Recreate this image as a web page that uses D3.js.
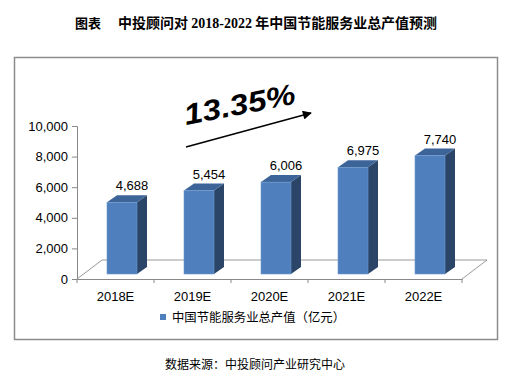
<!DOCTYPE html>
<html>
<head>
<meta charset="utf-8">
<script src="https://cdn.jsdelivr.net/npm/d3@7"></script>
<style>
  body { margin: 0; background: #fff; }
  svg text { font-family: "Liberation Sans", Arial, "Noto Sans CJK SC", sans-serif; }
</style>
</head>
<body>
<div id="chart"></div>
<script>
var years = ["2018E", "2019E", "2020E", "2021E", "2022E"]
var values = [4688, 5454, 6006, 6975, 7740]
var yTicks = [0, 2000, 4000, 6000, 8000, 10000]
var seriesName = "中国节能服务业总产值（亿元）"
var growthLabel = "13.35%"

var width = 507, height = 378
var svg = d3.select("#chart").append("svg")
    .attr("width", width)
    .attr("height", height)

// title
svg.append("text")
    .attr("x", 75).attr("y", 28)
    .style("font-family", "'Liberation Serif', 'Noto Sans CJK SC', serif")
    .style("font-weight", "bold")
    .attr("font-size", "13px")
    .text("图表")
svg.append("text")
    .attr("x", 118).attr("y", 28)
    .style("font-family", "'Liberation Serif', 'Noto Sans CJK SC', serif")
    .style("font-weight", "bold")
    .attr("font-size", "14px")
    .attr("textLength", 319)
    .attr("lengthAdjust", "spacingAndGlyphs")
    .text("中投顾问对 2018-2022 年中国节能服务业总产值预测")

// frame
svg.append("rect")
    .attr("x", 14.5).attr("y", 57.5)
    .attr("width", 483).attr("height", 282)
    .attr("fill", "none")
    .attr("stroke", "#8c8c8c")
    .attr("stroke-width", 1.5)

var x = d3.scaleBand().domain(years).range([77, 462])
var y = d3.scaleLinear().domain([0, 10000]).range([279, 126])

// floor depth
var fdx = 25, fdy = -19
var g = svg.append("g")

// floor outline
g.append("path")
    .attr("d", "M" + x.range()[0] + "," + y(0) + "L" + (x.range()[0] + fdx) + "," + (y(0) + fdy) +
               "L" + (x.range()[1] + fdx) + "," + (y(0) + fdy) + "L" + x.range()[1] + "," + y(0))
    .attr("fill", "none")
    .attr("stroke", "#999")
    .attr("stroke-width", 1)

// y axis
var yAxis = d3.axisLeft(y).tickValues(yTicks).tickSize(5).tickPadding(4)
    .tickFormat(d3.format(","))
var ya = svg.append("g").attr("transform", "translate(77,0)").call(yAxis)
ya.select(".domain").attr("stroke", "#888")
ya.selectAll(".tick line").attr("stroke", "#888")
ya.selectAll("text").attr("font-size", "13px").attr("fill", "#000")
    .style("font-family", "'Liberation Sans', Arial, sans-serif")

// x axis
var xa = svg.append("g").attr("transform", "translate(0," + y(0) + ")")
    .call(d3.axisBottom(x).tickSize(0).tickPadding(13))
xa.select(".domain").attr("stroke", "#888")
xa.selectAll("text").attr("font-size", "13px").attr("fill", "#000")
    .style("font-family", "'Liberation Sans', Arial, sans-serif")
// category separators
xa.selectAll(".sep")
    .data(years.concat(["end"]))
    .enter().append("line")
    .attr("x1", function(d, i) { return x.range()[0] + i * x.bandwidth() })
    .attr("x2", function(d, i) { return x.range()[0] + i * x.bandwidth() })
    .attr("y1", 0).attr("y2", 4)
    .attr("stroke", "#888")

// 3d bars
var bw = 30, bdx = 10, bdy = -7, off = 30, lift = -5
var bars = g.selectAll(".bar").data(values).enter().append("g").attr("class", "bar")

bars.each(function(v, i) {
    var b = d3.select(this)
    var x0 = x(years[i]) + off, x1 = x0 + bw
    var yb = y(0) + lift, yt = y(v) + lift
    // side
    b.append("path")
        .attr("d", "M" + x1 + "," + yb + "L" + (x1 + bdx) + "," + (yb + bdy) +
                   "L" + (x1 + bdx) + "," + (yt + bdy) + "L" + x1 + "," + yt + "Z")
        .attr("fill", "#2b4568")
    // top
    b.append("path")
        .attr("d", "M" + x0 + "," + yt + "L" + (x0 + bdx) + "," + (yt + bdy) +
                   "L" + (x1 + bdx) + "," + (yt + bdy) + "L" + x1 + "," + yt + "Z")
        .attr("fill", "#3c6499")
    // front
    b.append("rect")
        .attr("x", x0).attr("y", yt)
        .attr("width", bw).attr("height", yb - yt)
        .attr("fill", "#4f80bd")
        .attr("stroke", "#6d98cc")
        .attr("stroke-width", 0.6)
    // value label
    b.append("text")
        .attr("x", x0 + bw / 2 + bdx)
        .attr("y", yt + bdy - 5)
        .attr("text-anchor", "middle")
        .attr("font-size", "13px")
        .attr("fill", "#000")
        .text(d3.format(",")(v))
})

// growth annotation
svg.append("text")
    .attr("transform", "translate(186,125) rotate(-11)")
    .attr("font-size", "29px")
    .style("font-weight", "bold")
    .style("font-style", "italic")
    .attr("textLength", 113)
    .attr("lengthAdjust", "spacingAndGlyphs")
    .attr("fill", "#000")
    .text(growthLabel)

svg.append("defs").append("marker")
    .attr("id", "arr")
    .attr("viewBox", "0 0 10 10")
    .attr("refX", 9).attr("refY", 5)
    .attr("markerWidth", 7).attr("markerHeight", 6)
    .attr("orient", "auto")
    .append("path").attr("d", "M0,0L10,5L0,10Z").attr("fill", "#000")

svg.append("line")
    .attr("x1", 186).attr("y1", 147)
    .attr("x2", 311).attr("y2", 113)
    .attr("stroke", "#000")
    .attr("stroke-width", 1.5)
    .attr("marker-end", "url(#arr)")

// legend
svg.append("rect")
    .attr("x", 160).attr("y", 314)
    .attr("width", 6).attr("height", 6)
    .attr("fill", "#4f80bd")
svg.append("text")
    .attr("x", 172).attr("y", 322)
    .attr("font-size", "12.5px")
    .style("font-family", "'Noto Sans CJK SC', sans-serif")
    .attr("fill", "#000")
    .attr("textLength", 173)
    .attr("lengthAdjust", "spacingAndGlyphs")
    .text(seriesName)

// source
svg.append("text")
    .attr("x", 255).attr("y", 369)
    .attr("text-anchor", "middle")
    .attr("font-size", "12px")
    .style("font-family", "'Noto Sans CJK SC', sans-serif")
    .attr("fill", "#000")
    .text("数据来源：中投顾问产业研究中心")
</script>
</body>
</html>
